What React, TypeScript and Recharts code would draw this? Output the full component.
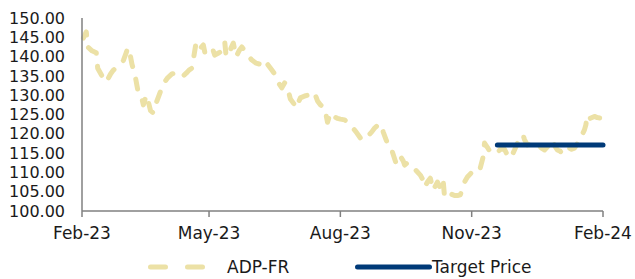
import React from "react";
import { LineChart, Line, XAxis, YAxis, Legend } from "recharts";

// Day offsets from 1 Feb 2023
const days = [
  1, 3, 4, 7, 10, 11, 14, 17, 20, 22, 25, 27, 29, 31, 32, 34, 35, 37, 39, 41,
  43, 45, 46, 48, 50, 52, 55, 57, 60, 63, 65, 68, 70, 73, 75, 77, 80, 81, 83, 85,
  86, 89, 91, 93, 96, 98, 100, 101, 103, 106, 108, 110, 112, 114, 117, 119, 122, 125, 128, 130,
  133, 136, 138, 140, 142, 144, 146, 149, 150, 152, 153, 156, 158, 160, 163, 165, 167, 170, 172, 174,
  176, 179, 181, 184, 186, 189, 192, 196, 198, 201, 203, 205, 208, 210, 211, 213, 215, 217, 220, 221,
  223, 225, 226, 228, 231, 234, 237, 239, 240, 242, 244, 246, 249, 251, 253, 254, 256, 258, 261, 263,
  265, 267, 268, 270, 273, 275, 278, 279, 281, 282, 284, 286, 289, 291, 293, 296, 298, 300, 302, 303,
  305, 308, 309, 310, 312, 315, 317, 320, 322, 324, 327, 329, 331, 333, 335, 336, 338, 340, 343, 345,
  348, 350, 352, 353, 354, 356, 359, 361, 363, 364, 365,
];
const adpPrices = [
  144.8, 146.4, 142.5, 141.5, 141.0, 137.0, 135.0, 133.4, 135.5, 136.5, 137.5, 138.3, 139.0, 141.0, 142.3, 140.0, 138.0, 135.5, 131.5, 130.5,
  127.5, 130.0, 129.0, 126.0, 125.4, 128.0, 131.0, 133.0, 134.5, 135.5, 135.7, 135.0, 134.7, 135.7, 136.5, 137.0, 143.8, 143.0, 142.2, 143.0,
  141.2, 142.0, 142.5, 140.4, 141.0, 141.5, 143.8, 140.0, 141.0, 143.5, 140.0, 141.5, 142.5, 141.5, 140.0, 139.1, 138.3, 138.0, 139.1, 138.0,
  136.5, 135.0, 133.0, 131.9, 133.2, 131.9, 129.0, 127.5, 126.7, 128.5, 129.3, 129.8, 130.0, 130.8, 130.5, 128.5, 127.5, 126.7, 123.0, 125.4,
  124.5, 124.0, 123.8, 123.6, 123.0, 121.8, 120.5, 118.4, 119.0, 119.7, 120.5, 121.5, 122.5, 122.3, 120.5, 118.5, 116.5, 115.8, 112.4, 114.0,
  114.2, 113.0, 111.9, 112.5, 111.5, 110.5, 109.3, 108.0, 106.2, 107.5, 108.5, 105.4, 107.5, 106.0, 108.0, 103.6, 104.5, 104.5, 104.0, 104.0,
  104.2, 106.0, 107.5, 108.8, 110.0, 110.6, 111.5, 111.1, 114.0, 117.6, 116.5, 115.3, 115.0, 115.0, 116.0, 116.0, 114.5, 113.7, 115.0, 115.8,
  117.5, 118.5, 119.7, 118.5, 117.1, 117.5, 117.6, 117.0, 116.3, 115.8, 117.0, 118.4, 117.0, 115.8, 115.5, 115.0, 115.5, 116.6, 116.0, 116.3,
  118.0, 119.5, 121.0, 122.3, 124.9, 124.0, 124.5, 124.2, 124.1, 126.2, 126.5,
];

const targetDays = [291, 365];
const targetValues = [117.1, 117.1];

const xTicks = [0, 89, 181, 273, 365];
const xTickLabels = ["Feb-23", "May-23", "Aug-23", "Nov-23", "Feb-24"];
const yTicks = [100, 105, 110, 115, 120, 125, 130, 135, 140, 145, 150];

const seriesNames = ["ADP-FR", "Target Price"];

const adpData = days.map((d, i) => ({ day: d, adp: adpPrices[i] }));
const targetData = targetDays.map((d, i) => ({ day: d, target: targetValues[i] }));

const ADP_COLOR = "#ECE1A6";
const TARGET_COLOR = "#003A78";
const AXIS_COLOR = "#808080";
const FONT = "'DejaVu Sans', sans-serif";

const LegendContent = () => (
  <svg width={635} height={38} style={{ display: "block" }}>
    <line x1={150.5} x2={202.5} y1={26} y2={26} stroke={ADP_COLOR} strokeWidth={5} strokeDasharray="15 22" strokeLinecap="round" />
    <text x={227} y={26} dy="0.36em" fontSize={17} fontFamily={FONT} fill="#1a1a1a">{seriesNames[0]}</text>
    <line x1={357.5} x2={429.5} y1={26} y2={26} stroke={TARGET_COLOR} strokeWidth={5} strokeLinecap="round" />
    <text x={432} y={26} dy="0.36em" fontSize={17} fontFamily={FONT} fill="#1a1a1a">{seriesNames[1]}</text>
  </svg>
);

export default function App() {
  return (
    <div style={{ position: "absolute", left: 0, top: 0 }}>
      <LineChart width={635} height={279} margin={{ top: 18, right: 32, bottom: 0, left: 0 }}>
        <XAxis
          dataKey="day"
          type="number"
          domain={[0, 365]}
          ticks={xTicks}
          interval={0}
          allowDuplicatedCategory={false}
          tickFormatter={(v: number) => xTickLabels[xTicks.indexOf(v)]}
          height={30}
          tickSize={6}
          tickMargin={10}
          stroke={AXIS_COLOR}
          strokeWidth={1.5}
          tick={{ fill: "#1a1a1a", fontSize: 17, fontFamily: FONT }}
        />
        <YAxis
          type="number"
          domain={[100, 150]}
          ticks={yTicks}
          interval={0}
          width={82}
          tickLine={false}
          tickSize={0}
          tickMargin={17}
          tickFormatter={(v: number) => v.toFixed(2)}
          stroke={AXIS_COLOR}
          strokeWidth={1.5}
          tick={{ fill: "#1a1a1a", fontSize: 16, fontFamily: FONT }}
        />
        <Legend verticalAlign="bottom" height={38} wrapperStyle={{ left: 0, width: 635 }} content={() => <LegendContent />} />
        <Line
          data={adpData}
          dataKey="adp"
          name={seriesNames[0]}
          type="linear"
          stroke={ADP_COLOR}
          strokeWidth={5}
          strokeDasharray="10 13"
          strokeLinecap="round"
          strokeLinejoin="round"
          dot={false}
          activeDot={false}
          isAnimationActive={false}
        />
        <Line
          data={targetData}
          dataKey="target"
          name={seriesNames[1]}
          type="linear"
          stroke={TARGET_COLOR}
          strokeWidth={5}
          strokeLinecap="round"
          dot={false}
          activeDot={false}
          isAnimationActive={false}
        />
      </LineChart>
    </div>
  );
}
